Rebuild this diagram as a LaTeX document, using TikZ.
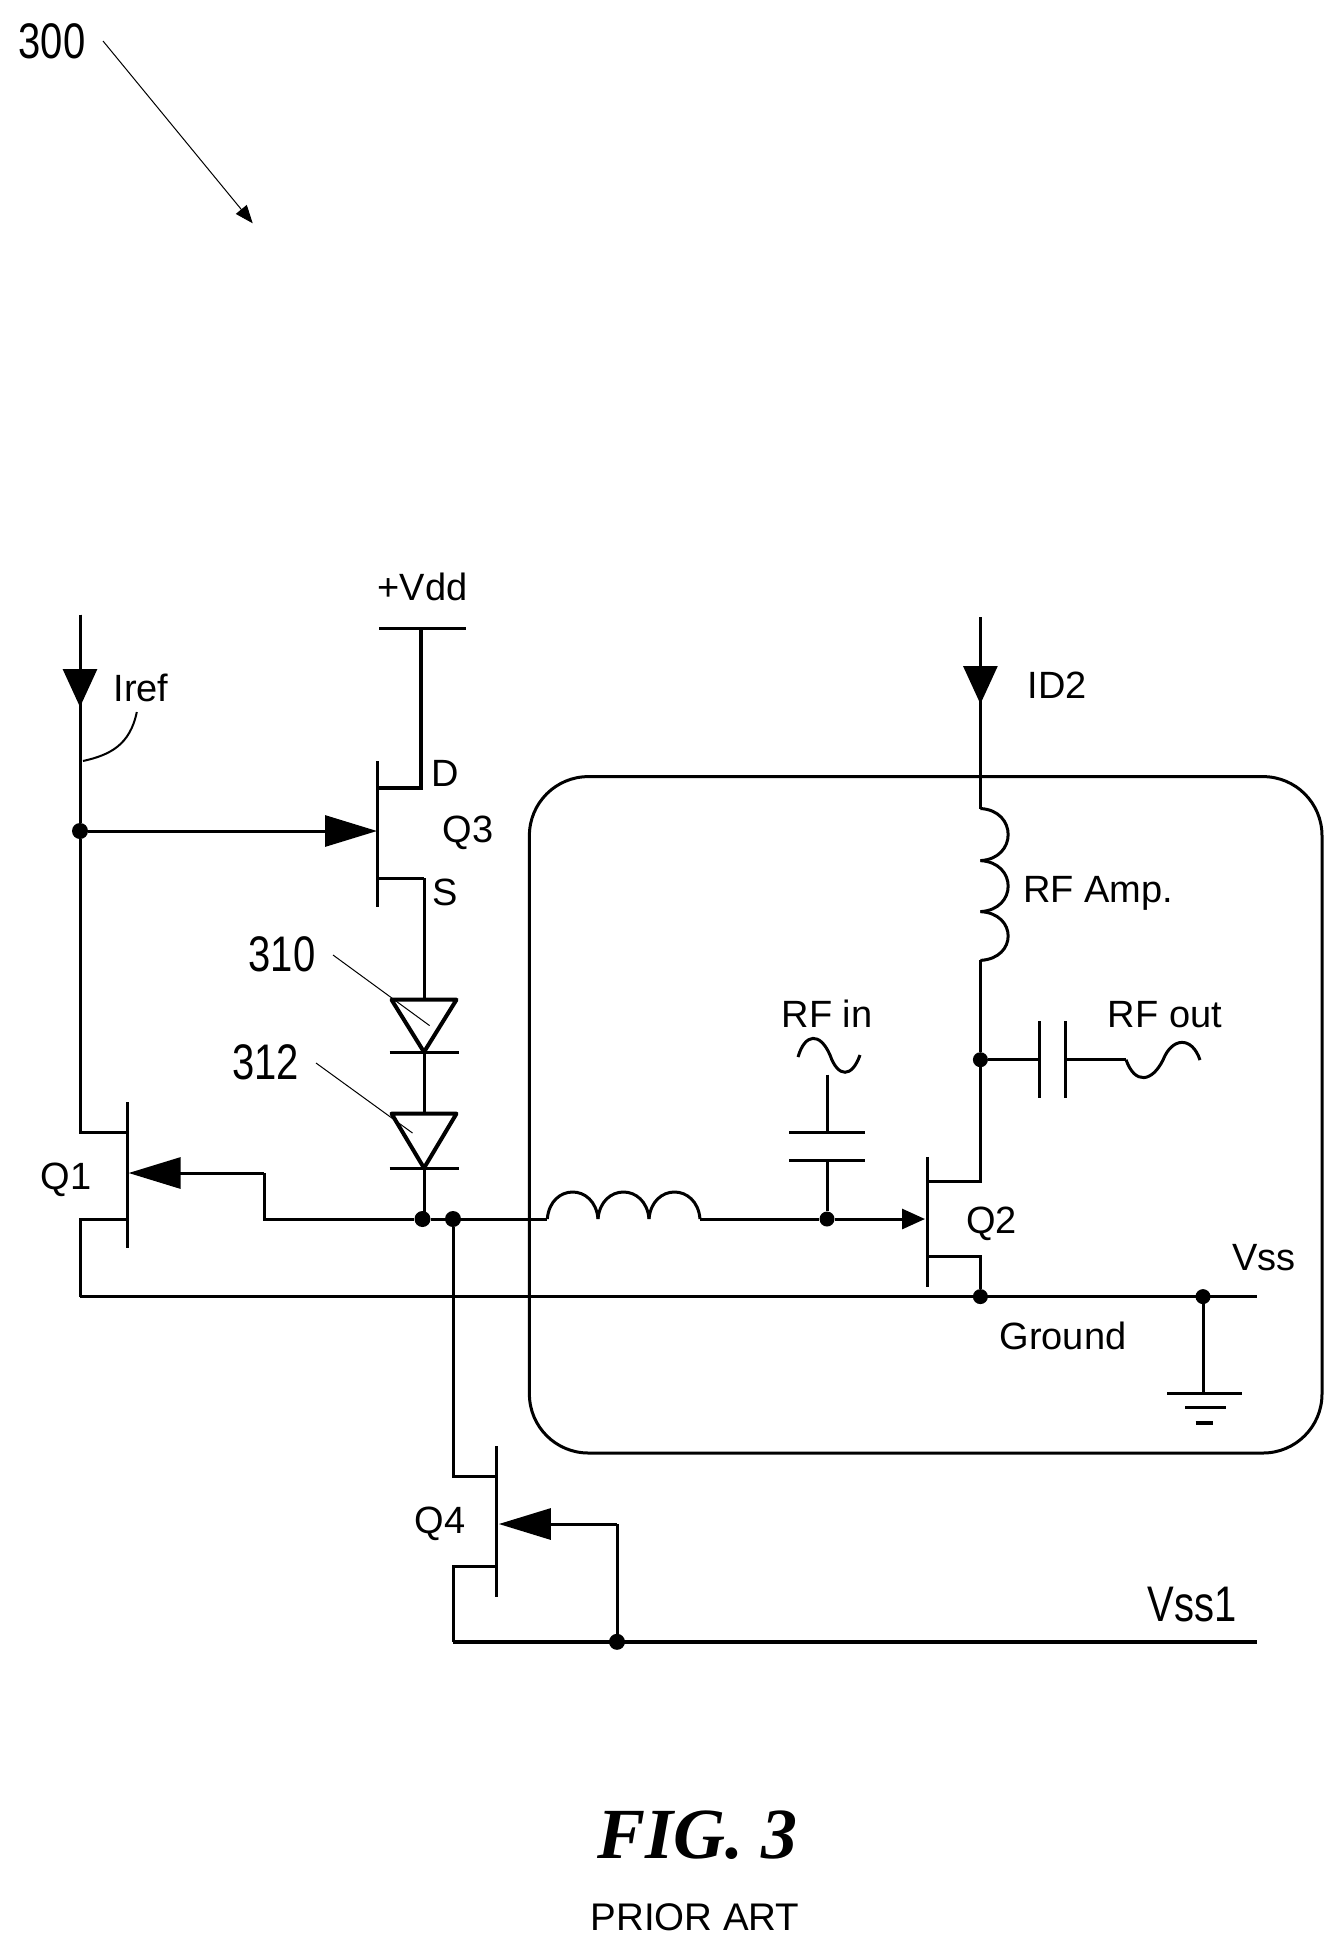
\documentclass[tikz,border=0pt]{standalone}
\usepackage{fontspec}
\setmainfont{Liberation Sans}
\newfontfamily\figfont{Liberation Serif}
\usetikzlibrary{arrows.meta}
\tikzset{
  wire/.style={line width=3pt},
  heavywire/.style={line width=4pt},
  thinwire/.style={line width=1pt},
  dot/.style={circle,fill=black,inner sep=0pt,minimum size=16pt},
  lab/.style={inner sep=0pt,text height=26pt,text depth=0pt,font=\fontsize{38}{40}\selectfont},
  bignum/.style={inner sep=0pt,text height=36pt,text depth=0pt},
  fettip/.style={-{Triangle[length=52pt,width=31pt]}},
  srctip/.style={-{Triangle[length=38pt,width=34pt]}},
  smalltip/.style={-{Triangle[length=23pt,width=20pt]}},
}
\newcommand{\bignumtext}[1]{\scalebox{.8}[1]{\fontsize{50}{50}\selectfont #1}}
\newcommand{\fetbar}[4]{\coordinate (#1t) at (#2,#3); \coordinate (#1b) at (#2,#4); \draw[wire] (#1t) -- (#1b);}
\newcommand{\diode}[4]{\coordinate (#1a) at (#2,#3); \coordinate (#1k) at (#2,#4);
  \draw[heavywire,line join=round] ({#2-32.5},#3) -- ({#2+32.5},#3) -- (#2,#4) -- cycle;
  \draw[wire] ({#2-34.5},#4) -- ({#2+34.5},#4);}
\newcommand{\coilv}[3]{\draw[wire] (#1,#2) .. controls ({#1+37},{#2+2}) and ({#1+37},{#3-2}) .. (#1,#3);}
\newcommand{\coilh}[3]{\draw[wire] (#1,#3) .. controls ({#1+3},{#3-36}) and ({#2-3},{#3-36}) .. (#2,#3);}

\begin{document}
\begin{tikzpicture}[x=1pt,y=-1pt]
    \useasboundingbox (0,0) rectangle (1343,1955);
    % reference arrow
    \node[bignum] (n300) at (52,40) {\bignumtext{300}};
    \coordinate (a300s) at (103,41);
    \coordinate (a300e) at (252.7,223.3);
    \draw[thinwire,-{Triangle[length=18pt,width=14pt]}] (a300s) -- (a300e);
    % block
    \draw[wire,rounded corners=59pt] (529.4,776.6) rectangle (1322,1453);
    % q3
    \node[lab] (vdd) at (422.5,587.7) {+Vdd};
    \coordinate (vddl) at (379,628);
    \coordinate (vddr) at (466,628);
    \coordinate (vddm) at (421,628);
    \draw[wire] (vddl) -- (vddr);
    \fetbar{qc}{377.5}{761}{907}
    \coordinate (qcd) at (377.5,787.7);
    \coordinate (qcdr) at (421,787.7);
    \coordinate (qcg) at (377,831);
    \coordinate (qcs) at (377.5,878.3);
    \coordinate (qcsr) at (424,878.3);
    \draw[heavywire] (vddm) -- (qcdr) -- (qcd);
    \draw[wire] (qcs) -- (qcsr);
    \node[lab] (dtext) at (445,773) {D};
    \node[lab] (qctext) at (468,829) {Q3};
    \node[lab] (stext) at (445,892) {S};
    % diodes
    \diode{da}{424}{999.7}{1052}
    \diode{db}{424}{1113.6}{1168}
    \draw[wire] (qcsr) -- (daa);
    \draw[wire] (dak) -- (dba);
    \node[dot] (jd) at (422.5,1219) {};
    \node[dot] (jq) at (453,1219) {};
    \draw[wire] (dbk) -- (424,1219);
    \node[bignum] (n310) at (282,953) {\bignumtext{310}};
    \node[bignum] (n312) at (265.4,1061) {\bignumtext{312}};
    \coordinate (lda) at (333,955);
    \coordinate (ldb) at (429.6,1025.6);
    \coordinate (lea) at (316,1063);
    \coordinate (leb) at (412.5,1133);
    \draw[thinwire] (lda) -- (ldb);
    \draw[thinwire] (lea) -- (leb);
    % iref and q1
    \coordinate (irefa) at (80,614.5);
    \coordinate (irefb) at (80,707);
    \node[dot] (jr) at (80,831) {};
    \draw[wire] (irefa) -- (irefb);
    \draw[wire,srctip] (irefa) -- (irefb);
    \draw[wire] (irefb) -- (jr);
    \draw[wire,fettip] (jr) -- (qcg);
    \node[lab] (ireftext) at (141,688.6) {Iref};
    \coordinate (cva) at (136.8,712);
    \coordinate (cvb) at (83,761);
    \draw[line width=2pt] (cva) .. controls (130,745) and (110,755) .. (cvb);
    \fetbar{qa}{127.5}{1102.4}{1248}
    \coordinate (qad) at (127.5,1132);
    \coordinate (qal) at (80,1132);
    \coordinate (qag) at (128.6,1173);
    \coordinate (qagr) at (264,1173);
    \coordinate (qagd) at (264,1219);
    \coordinate (qas) at (127.5,1219);
    \coordinate (qasl) at (80,1219);
    \coordinate (gndl) at (80,1296.6);
    \draw[wire] (jr) -- (qal) -- (qad);
    \draw[wire,fettip] (qagr) -- (qag);
    \draw[wire] (jd) -- (qagd) -- (qagr);
    \draw[wire] (qas) -- (qasl) -- (gndl);
    \node[lab] (qatext) at (66,1176) {Q1};
    % input
    \coordinate (coila) at (547.3,1219);
    \coordinate (coilb) at (700,1219);
    \draw[wire] (jd) -- (coila);
    \coilh{547.3}{598}{1219}
    \coilh{598}{649}{1219}
    \coilh{649}{700}{1219}
    \node[dot,minimum size=15pt] (jin) at (827,1219) {};
    \coordinate (qbg) at (925,1219);
    \draw[wire] (coilb) -- (jin);
    \draw[wire,smalltip] (jin) -- (qbg);
    \coordinate (capa) at (827,1132);
    \coordinate (capb) at (827,1160.6);
    \coordinate (sina) at (827,1074.5);
    \draw[wire] (sina) -- (capa);
    \draw[wire] (789,1132) -- (865,1132);
    \draw[wire] (789,1160.6) -- (865,1160.6);
    \draw[wire] (capb) -- (jin);
    \draw[wire] (798,1057) .. controls (805,1033) and (820,1032) .. (830,1055) .. controls (838,1078) and (852,1078) .. (860,1055);
    \node[lab] (rfin) at (827,1014) {RF in};
    % q2
    \fetbar{qb}{927.3}{1156.8}{1286.8}
    \coordinate (qbd) at (927.3,1181.5);
    \coordinate (qbdr) at (980.4,1181.5);
    \coordinate (qbs) at (927.3,1256.6);
    \coordinate (qbsr) at (980.4,1256.6);
    \node[dot,minimum size=15pt] (jout) at (980.4,1059.7) {};
    \node[dot,minimum size=15pt] (jgnd) at (980.4,1296.6) {};
    \node[dot,minimum size=15pt] (jvss) at (1203,1296.6) {};
    \draw[wire] (jout) -- (qbdr) -- (qbd);
    \draw[wire] (qbs) -- (qbsr) -- (jgnd);
    \node[lab] (qbtext) at (991.4,1220) {Q2};
    % drain coil
    \coordinate (idt) at (980.4,617);
    \coordinate (idb) at (980.4,704);
    \coordinate (cla) at (980.4,808.5);
    \coordinate (clb) at (980.4,960.4);
    \draw[wire] (idt) -- (idb) -- (cla);
    \draw[wire,srctip] (idt) -- (idb);
    \coilv{980.4}{808.5}{860.6}
    \coilv{980.4}{860.6}{911.6}
    \coilv{980.4}{911.6}{960.4}
    \draw[wire] (clb) -- (jout);
    \node[lab] (idtext) at (1057,685) {ID2};
    \node[lab] (amptext) at (1098,889) {RF Amp.};
    % output
    \coordinate (cpa) at (1039.7,1059.7);
    \coordinate (cpb) at (1065,1059.7);
    \coordinate (sinb) at (1126,1059.7);
    \draw[wire] (jout) -- (cpa);
    \draw[wire] (cpb) -- (sinb);
    \draw[wire] (1039.7,1021) -- (1039.7,1098);
    \draw[wire] (1065,1021) -- (1065,1098);
    \draw[wire] (sinb) .. controls (1135,1085) and (1152,1082) .. (1163,1060) .. controls (1172,1037) and (1192,1036) .. (1200,1060);
    \node[lab] (rfout) at (1165,1014) {RF out};
    % ground rail
    \coordinate (gndr) at (1257,1296.6);
    \draw[wire] (gndl) -- (gndr);
    \node[lab] (vss) at (1264,1257) {Vss};
    \node[lab] (gndtext) at (1063,1336) {Ground};
    \coordinate (ea) at (1203,1393.8);
    \draw[wire] (jvss) -- (ea);
    \draw[wire] (1167,1393.8) -- (1242,1393.8);
    \draw[wire] (1185,1407.4) -- (1226,1407.4);
    \draw[heavywire] (1195.6,1422.8) -- (1213,1422.8);
    % q4
    \fetbar{qd}{496.5}{1446}{1596.8}
    \coordinate (qdd) at (496.5,1476);
    \coordinate (qdl) at (453,1476);
    \coordinate (qds) at (496.5,1566.4);
    \coordinate (qdsl) at (453,1566.4);
    \coordinate (qdb) at (453,1641.8);
    \coordinate (qdg) at (498.8,1524);
    \coordinate (qdgr) at (617,1524);
    \coordinate (vssr) at (1257,1641.8);
    \node[dot] (jq4) at (617,1641.8) {};
    \draw[wire] (jq) -- (qdl) -- (qdd);
    \draw[wire] (qds) -- (qdsl) -- (qdb);
    \draw[heavywire] (qdb) -- (vssr);
    \draw[wire,fettip] (qdgr) -- (qdg);
    \draw[wire] (qdgr) -- (jq4);
    \node[lab] (qdtext) at (440,1520) {Q4};
    \node[bignum] (vsso) at (1192,1603.5) {\bignumtext{Vss1}};
    % caption
    \node[inner sep=0pt,font=\figfont\bfseries\itshape\fontsize{72}{72}\selectfont] (figtext) at (697.5,1835.4) {FIG. 3};
    \node[lab,font=\fontsize{38.5}{40}\selectfont] (prior) at (695,1917.5) {PRIOR ART};
\end{tikzpicture}
\end{document}
